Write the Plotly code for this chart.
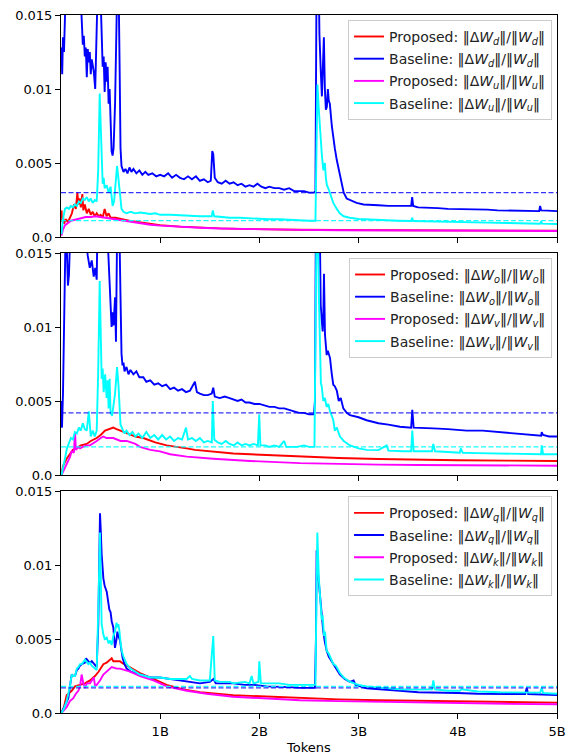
import plotly.graph_objects as go

# ---------------- data (x in billions of tokens) ----------------
# Panel 1: down / up projections
p1_base_d_x = [0.005, 0.012, 0.02, 0.03, 0.045, 0.08, 0.12, 0.17, 0.20, 0.21, 0.22, 0.23, 0.24, 0.25, 0.26, 0.27, 0.28, 0.29, 0.30, 0.31, 0.33, 0.345, 0.36, 0.37, 0.385, 0.40, 0.41, 0.42, 0.43, 0.44, 0.45, 0.46, 0.47, 0.48, 0.49, 0.50, 0.51, 0.52, 0.53, 0.545, 0.56, 0.575, 0.59, 0.60, 0.61, 0.63, 0.65, 0.67, 0.69, 0.71, 0.73, 0.76, 0.79, 0.82, 0.85, 0.88, 0.92, 0.96, 1.0, 1.04, 1.08, 1.12, 1.16, 1.2, 1.24, 1.28, 1.32, 1.36, 1.40, 1.44, 1.48, 1.51, 1.525, 1.535, 1.55, 1.58, 1.62, 1.66, 1.70, 1.74, 1.78, 1.82, 1.86, 1.90, 1.94, 1.98, 2.02, 2.06, 2.10, 2.15, 2.20, 2.25, 2.30, 2.35, 2.40, 2.45, 2.50, 2.55, 2.565, 2.575, 2.59, 2.605, 2.62, 2.63, 2.64, 2.65, 2.66, 2.67, 2.68, 2.69, 2.70, 2.71, 2.73, 2.745, 2.76, 2.78, 2.80, 2.815, 2.83, 2.85, 2.88, 2.92, 2.98, 3.05, 3.1, 3.2, 3.3, 3.4, 3.5, 3.53, 3.54, 3.55, 3.6, 3.7, 3.8, 3.9, 4.0, 4.1, 4.2, 4.3, 4.4, 4.5, 4.6, 4.7, 4.82, 4.83, 4.84, 4.9, 5.0]
p1_base_d_y = [0.0128, 0.0110, 0.0135, 0.0125, 0.016, 0.022, 0.020, 0.018, 0.016, 0.0138, 0.0130, 0.0136, 0.0122, 0.0128, 0.0108, 0.0127, 0.0118, 0.0125, 0.0110, 0.0120, 0.0112, 0.0100, 0.0135, 0.020, 0.021, 0.016, 0.0125, 0.0115, 0.0122, 0.0098, 0.0118, 0.0105, 0.0115, 0.0090, 0.0100, 0.0070, 0.0058, 0.0055, 0.0060, 0.0090, 0.018, 0.020, 0.012, 0.0060, 0.0048, 0.0044, 0.0046, 0.0043, 0.0047, 0.0044, 0.0046, 0.0043, 0.0045, 0.0042, 0.0044, 0.0042, 0.0043, 0.0041, 0.0042, 0.0041, 0.0043, 0.0040, 0.0042, 0.0040, 0.0039, 0.0041, 0.0039, 0.0041, 0.0038, 0.0039, 0.0037, 0.0038, 0.0058, 0.0056, 0.0040, 0.0037, 0.0036, 0.0038, 0.0036, 0.0037, 0.0035, 0.0036, 0.0034, 0.0035, 0.0034, 0.0036, 0.0034, 0.0033, 0.0034, 0.0033, 0.0033, 0.0032, 0.0033, 0.0031, 0.0031, 0.0031, 0.0030, 0.0030, 0.0031, 0.016, 0.022, 0.0137, 0.0110, 0.0095, 0.0115, 0.0135, 0.0100, 0.0086, 0.0088, 0.0100, 0.0092, 0.0090, 0.0075, 0.0066, 0.0060, 0.0052, 0.0045, 0.0041, 0.0036, 0.0030, 0.0026, 0.0025, 0.0023, 0.0022, 0.0022, 0.00215, 0.0021, 0.0021, 0.0021, 0.0021, 0.0027, 0.0021, 0.0020, 0.0020, 0.00195, 0.0019, 0.0019, 0.0019, 0.00185, 0.00185, 0.0018, 0.0018, 0.0018, 0.0018, 0.00175, 0.0021, 0.0018, 0.00178, 0.00175]

p1_base_u_x = [0.005, 0.02, 0.04, 0.06, 0.08, 0.10, 0.12, 0.14, 0.16, 0.18, 0.20, 0.22, 0.24, 0.26, 0.28, 0.30, 0.32, 0.34, 0.36, 0.375, 0.39, 0.40, 0.41, 0.42, 0.43, 0.44, 0.46, 0.48, 0.50, 0.52, 0.535, 0.555, 0.565, 0.575, 0.59, 0.61, 0.63, 0.66, 0.70, 0.75, 0.80, 0.85, 0.90, 0.95, 1.0, 1.1, 1.2, 1.3, 1.4, 1.52, 1.53, 1.545, 1.6, 1.7, 1.8, 1.9, 2.0, 2.1, 2.2, 2.3, 2.4, 2.5, 2.565, 2.575, 2.585, 2.60, 2.615, 2.63, 2.645, 2.66, 2.67, 2.68, 2.70, 2.71, 2.73, 2.745, 2.78, 2.81, 2.85, 2.91, 3.0, 3.1, 3.2, 3.3, 3.4, 3.53, 3.54, 3.55, 3.7, 3.9, 4.1, 4.3, 4.5, 4.7, 4.83, 4.84, 4.85, 5.0]
p1_base_u_y = [0.0002, 0.0012, 0.0019, 0.0020, 0.0019, 0.0021, 0.0020, 0.0022, 0.0021, 0.0024, 0.0023, 0.0026, 0.0025, 0.0027, 0.0024, 0.0026, 0.0023, 0.0025, 0.0024, 0.0045, 0.0097, 0.0075, 0.0042, 0.0036, 0.0040, 0.0033, 0.0035, 0.0030, 0.0034, 0.0021, 0.0024, 0.0040, 0.0048, 0.0042, 0.0030, 0.0019, 0.0017, 0.0016, 0.0017, 0.0016, 0.00165, 0.0016, 0.00155, 0.0016, 0.0015, 0.0015, 0.00145, 0.0014, 0.0014, 0.0014, 0.0018, 0.0014, 0.00135, 0.0013, 0.0013, 0.00125, 0.00125, 0.0012, 0.0012, 0.00115, 0.00115, 0.0011, 0.0011, 0.0060, 0.0103, 0.0085, 0.0065, 0.0055, 0.0045, 0.0050, 0.0040, 0.0035, 0.0032, 0.0030, 0.0026, 0.0023, 0.0019, 0.0016, 0.0014, 0.0013, 0.00122, 0.00118, 0.00115, 0.0011, 0.0011, 0.00108, 0.0013, 0.00108, 0.00105, 0.00102, 0.0010, 0.00097, 0.00095, 0.00092, 0.0009, 0.00105, 0.0009, 0.00088]

p1_prop_d_x = [0.005, 0.012, 0.02, 0.03, 0.05, 0.07, 0.09, 0.11, 0.13, 0.15, 0.165, 0.175, 0.19, 0.20, 0.215, 0.225, 0.24, 0.26, 0.28, 0.30, 0.32, 0.34, 0.36, 0.38, 0.40, 0.42, 0.44, 0.46, 0.48, 0.50, 0.55, 0.60, 0.65, 0.70, 0.80, 0.9, 1.0, 1.2, 1.4, 1.6, 1.8, 2.0, 2.4, 2.8, 3.2, 3.6, 4.0, 4.5, 5.0]
p1_prop_d_y = [0.0018, 0.0010, 0.0014, 0.0009, 0.0012, 0.0010, 0.0013, 0.0016, 0.0022, 0.0019, 0.0030, 0.0022, 0.0026, 0.0020, 0.0029, 0.0018, 0.0022, 0.0016, 0.0019, 0.0015, 0.0017, 0.0014, 0.0016, 0.0014, 0.0015, 0.0013, 0.0019, 0.0014, 0.0016, 0.0013, 0.0013, 0.0012, 0.00115, 0.00108, 0.00098, 0.00088, 0.0008, 0.0007, 0.00063, 0.00058, 0.00055, 0.00052, 0.00049, 0.00047, 0.00046, 0.00045, 0.00044, 0.00043, 0.00042]

p1_prop_u_x = [0.005, 0.02, 0.04, 0.06, 0.08, 0.10, 0.13, 0.16, 0.2, 0.25, 0.3, 0.35, 0.4, 0.45, 0.5, 0.55, 0.6, 0.7, 0.8, 0.9, 1.0, 1.2, 1.4, 1.6, 1.8, 2.0, 2.4, 2.8, 3.2, 3.6, 4.0, 4.5, 5.0]
p1_prop_u_y = [0.0001, 0.0005, 0.0008, 0.0009, 0.0010, 0.0011, 0.00115, 0.0012, 0.0013, 0.00135, 0.00135, 0.0014, 0.00135, 0.0013, 0.0012, 0.00115, 0.0011, 0.0010, 0.0009, 0.00083, 0.00077, 0.00068, 0.00062, 0.00057, 0.00054, 0.00051, 0.00048, 0.00046, 0.00045, 0.00044, 0.00043, 0.00042, 0.00041]

# Panel 2: output / value projections
p2_base_o_x = [0.005, 0.01, 0.02, 0.03, 0.04, 0.05, 0.06, 0.07, 0.08, 0.09, 0.12, 0.16, 0.20, 0.25, 0.27, 0.29, 0.31, 0.33, 0.345, 0.36, 0.37, 0.40, 0.45, 0.477, 0.49, 0.50, 0.51, 0.52, 0.53, 0.545, 0.554, 0.565, 0.58, 0.60, 0.61, 0.62, 0.63, 0.64, 0.66, 0.68, 0.70, 0.73, 0.76, 0.79, 0.83, 0.86, 0.90, 0.94, 0.98, 1.02, 1.06, 1.10, 1.14, 1.18, 1.22, 1.26, 1.30, 1.35, 1.37, 1.40, 1.44, 1.48, 1.52, 1.535, 1.55, 1.60, 1.65, 1.70, 1.74, 1.78, 1.82, 1.86, 1.90, 1.95, 2.0, 2.05, 2.1, 2.15, 2.2, 2.25, 2.3, 2.35, 2.40, 2.45, 2.50, 2.55, 2.56, 2.57, 2.59, 2.61, 2.618, 2.628, 2.638, 2.645, 2.651, 2.661, 2.67, 2.678, 2.69, 2.712, 2.73, 2.745, 2.76, 2.78, 2.80, 2.82, 2.846, 2.88, 2.913, 3.0, 3.081, 3.2, 3.3, 3.417, 3.53, 3.541, 3.555, 3.65, 3.753, 3.9, 4.09, 4.25, 4.425, 4.6, 4.75, 4.84, 4.846, 4.86, 4.92, 5.0]
p2_base_o_y = [0.0050, 0.0032, 0.0055, 0.0090, 0.0140, 0.018, 0.0150, 0.0128, 0.0135, 0.018, 0.022, 0.020, 0.018, 0.0160, 0.0148, 0.0140, 0.0145, 0.0134, 0.0140, 0.0132, 0.018, 0.022, 0.019, 0.0149, 0.0130, 0.0115, 0.0100, 0.0110, 0.0101, 0.0120, 0.0090, 0.016, 0.020, 0.012, 0.0082, 0.0074, 0.0076, 0.0070, 0.0073, 0.0068, 0.0071, 0.0068, 0.0070, 0.0066, 0.0066, 0.0063, 0.0064, 0.0061, 0.0062, 0.0060, 0.0061, 0.0058, 0.0059, 0.0057, 0.0058, 0.0056, 0.0057, 0.0063, 0.0056, 0.0055, 0.0054, 0.0054, 0.0055, 0.0059, 0.0053, 0.0052, 0.0053, 0.0052, 0.0051, 0.0050, 0.0051, 0.0049, 0.0049, 0.0048, 0.0048, 0.0047, 0.0046, 0.0046, 0.0045, 0.0045, 0.0044, 0.0043, 0.0042, 0.0042, 0.0041, 0.0041, 0.0050, 0.018, 0.022, 0.016, 0.0115, 0.0105, 0.0097, 0.0110, 0.0136, 0.0095, 0.0085, 0.0081, 0.0084, 0.0079, 0.0068, 0.0061, 0.0060, 0.0057, 0.0050, 0.0052, 0.0045, 0.0042, 0.00405, 0.0039, 0.0037, 0.0035, 0.0034, 0.00326, 0.0032, 0.0044, 0.0032, 0.0032, 0.00315, 0.0031, 0.0030, 0.0030, 0.0029, 0.0028, 0.0027, 0.00265, 0.0029, 0.0027, 0.0026, 0.0026]

p2_base_v_x = [0.005, 0.02, 0.04, 0.06, 0.08, 0.10, 0.12, 0.14, 0.16, 0.18, 0.20, 0.22, 0.24, 0.26, 0.28, 0.30, 0.32, 0.34, 0.36, 0.375, 0.39, 0.40, 0.41, 0.42, 0.43, 0.445, 0.46, 0.47, 0.48, 0.49, 0.50, 0.515, 0.53, 0.545, 0.565, 0.58, 0.60, 0.62, 0.64, 0.66, 0.69, 0.72, 0.75, 0.78, 0.82, 0.86, 0.90, 0.94, 0.98, 1.02, 1.06, 1.10, 1.14, 1.18, 1.22, 1.26, 1.28, 1.32, 1.36, 1.40, 1.44, 1.48, 1.52, 1.53, 1.545, 1.58, 1.62, 1.66, 1.70, 1.74, 1.78, 1.82, 1.86, 1.90, 1.94, 1.985, 1.998, 2.01, 2.06, 2.1, 2.15, 2.2, 2.25, 2.27, 2.32, 2.38, 2.45, 2.5, 2.555, 2.565, 2.58, 2.60, 2.611, 2.62, 2.628, 2.638, 2.644, 2.66, 2.678, 2.695, 2.712, 2.73, 2.745, 2.76, 2.78, 2.812, 2.85, 2.913, 3.0, 3.081, 3.2, 3.283, 3.3, 3.45, 3.53, 3.541, 3.555, 3.65, 3.74, 3.753, 3.77, 3.9, 4.02, 4.03, 4.05, 4.2, 4.425, 4.6, 4.84, 4.846, 4.86, 5.0]
p2_base_v_y = [0.0000, 0.0006, 0.0011, 0.0018, 0.0022, 0.0025, 0.0024, 0.0029, 0.0028, 0.0032, 0.0030, 0.0035, 0.0031, 0.0030, 0.0043, 0.0026, 0.0030, 0.0026, 0.0030, 0.0070, 0.0131, 0.0100, 0.0065, 0.0072, 0.0056, 0.0068, 0.0052, 0.0064, 0.0045, 0.0065, 0.0042, 0.0040, 0.0048, 0.0055, 0.0073, 0.0060, 0.0034, 0.0031, 0.0028, 0.0030, 0.0027, 0.0029, 0.0026, 0.0028, 0.0025, 0.0029, 0.0025, 0.0027, 0.0024, 0.0027, 0.0024, 0.0026, 0.0023, 0.0025, 0.0024, 0.0032, 0.0024, 0.0025, 0.0023, 0.0025, 0.0022, 0.0023, 0.0022, 0.0050, 0.0024, 0.0022, 0.0021, 0.0023, 0.0021, 0.0020, 0.0022, 0.0020, 0.0021, 0.0020, 0.0021, 0.0020, 0.0041, 0.0020, 0.0020, 0.0019, 0.0020, 0.0019, 0.0023, 0.0019, 0.0019, 0.0019, 0.0020, 0.0019, 0.0019, 0.0080, 0.020, 0.0120, 0.0075, 0.0062, 0.0060, 0.0055, 0.0050, 0.0052, 0.0046, 0.0048, 0.0043, 0.0040, 0.0037, 0.0030, 0.0032, 0.0026, 0.0023, 0.0020, 0.0018, 0.0017, 0.00168, 0.0020, 0.00165, 0.0016, 0.0016, 0.0030, 0.0016, 0.0016, 0.0016, 0.0021, 0.0016, 0.00155, 0.0015, 0.0018, 0.0015, 0.00148, 0.00145, 0.00142, 0.0014, 0.0020, 0.0014, 0.0014]

p2_prop_o_x = [0.005, 0.02, 0.057, 0.09, 0.12, 0.158, 0.2, 0.259, 0.30, 0.36, 0.40, 0.444, 0.48, 0.527, 0.56, 0.595, 0.662, 0.75, 0.83, 0.95, 1.065, 1.2, 1.267, 1.35, 1.502, 1.737, 2.073, 2.409, 2.8, 3.2, 3.6, 4.0, 4.5, 5.0]
p2_prop_o_y = [0.0, 0.0006, 0.0011, 0.0014, 0.0017, 0.0018, 0.0020, 0.0021, 0.0023, 0.0025, 0.0027, 0.0030, 0.0031, 0.0032, 0.0031, 0.0030, 0.0028, 0.0026, 0.0025, 0.0022, 0.0020, 0.0019, 0.0018, 0.0017, 0.0016, 0.00145, 0.00135, 0.00124, 0.00115, 0.00108, 0.00103, 0.0010, 0.00097, 0.00095]

p2_prop_v_x = [0.005, 0.02, 0.057, 0.09, 0.108, 0.13, 0.141, 0.15, 0.175, 0.192, 0.22, 0.26, 0.292, 0.33, 0.36, 0.40, 0.427, 0.46, 0.527, 0.6, 0.662, 0.75, 0.796, 0.9, 0.998, 1.1, 1.267, 1.535, 1.905, 2.409, 2.8, 3.2, 3.6, 4.0, 4.5, 5.0]
p2_prop_v_y = [0.0, 0.0002, 0.0007, 0.0012, 0.0016, 0.0015, 0.0029, 0.0017, 0.0019, 0.0018, 0.0019, 0.0020, 0.0020, 0.0022, 0.0023, 0.0025, 0.0026, 0.0025, 0.0025, 0.0023, 0.0023, 0.0021, 0.0019, 0.0017, 0.0016, 0.0014, 0.00124, 0.0011, 0.00095, 0.0008, 0.00074, 0.0007, 0.00068, 0.00066, 0.00064, 0.00063]

# Panel 3: query / key projections
p3_base_q_x = [0.005, 0.03, 0.074, 0.09, 0.108, 0.125, 0.141, 0.16, 0.175, 0.192, 0.21, 0.242, 0.252, 0.275, 0.292, 0.31, 0.343, 0.36, 0.376, 0.393, 0.40, 0.41, 0.427, 0.44, 0.461, 0.475, 0.487, 0.50, 0.511, 0.527, 0.544, 0.56, 0.568, 0.578, 0.595, 0.61, 0.622, 0.64, 0.662, 0.70, 0.75, 0.796, 0.85, 0.90, 0.998, 1.1, 1.233, 1.35, 1.401, 1.5, 1.537, 1.56, 1.65, 1.737, 1.85, 1.95, 2.073, 2.2, 2.3, 2.409, 2.5, 2.56, 2.57, 2.577, 2.59, 2.611, 2.628, 2.644, 2.66, 2.678, 2.70, 2.745, 2.78, 2.812, 2.86, 2.913, 2.95, 2.97, 3.081, 3.25, 3.417, 3.6, 3.753, 4.0, 4.2, 4.425, 4.68, 4.694, 4.71, 4.85, 5.0]
p3_base_q_y = [0.0, 0.0004, 0.0010, 0.0018, 0.0026, 0.0025, 0.0025, 0.0029, 0.0030, 0.0032, 0.0033, 0.0034, 0.0037, 0.0035, 0.0034, 0.0035, 0.0032, 0.0031, 0.0060, 0.0135, 0.0125, 0.0107, 0.0091, 0.0086, 0.0082, 0.0075, 0.0070, 0.0068, 0.0062, 0.0058, 0.0044, 0.0050, 0.0055, 0.0052, 0.0049, 0.0042, 0.0037, 0.0033, 0.0030, 0.0028, 0.0027, 0.0026, 0.0025, 0.0024, 0.0024, 0.0023, 0.0022, 0.0021, 0.0020, 0.0021, 0.0023, 0.0020, 0.0020, 0.0020, 0.0019, 0.0019, 0.0018, 0.0018, 0.00175, 0.0017, 0.0017, 0.0017, 0.0050, 0.0110, 0.0095, 0.0080, 0.0065, 0.0055, 0.0048, 0.0042, 0.0038, 0.0033, 0.0029, 0.0026, 0.0023, 0.0021, 0.0022, 0.0019, 0.00167, 0.0016, 0.0015, 0.0014, 0.0014, 0.00135, 0.0013, 0.0013, 0.00128, 0.0017, 0.00128, 0.00125, 0.00122]

p3_base_k_x = [0.005, 0.03, 0.057, 0.09, 0.108, 0.125, 0.141, 0.16, 0.175, 0.192, 0.21, 0.242, 0.252, 0.275, 0.292, 0.31, 0.343, 0.36, 0.376, 0.393, 0.40, 0.41, 0.427, 0.44, 0.461, 0.48, 0.494, 0.511, 0.527, 0.544, 0.56, 0.568, 0.578, 0.588, 0.60, 0.612, 0.63, 0.662, 0.70, 0.75, 0.796, 0.85, 0.90, 0.998, 1.1, 1.267, 1.3, 1.32, 1.4, 1.5, 1.525, 1.535, 1.55, 1.603, 1.7, 1.737, 1.85, 1.90, 1.922, 1.94, 1.99, 1.999, 2.015, 2.073, 2.2, 2.3, 2.409, 2.5, 2.565, 2.572, 2.584, 2.60, 2.618, 2.628, 2.638, 2.651, 2.661, 2.678, 2.70, 2.712, 2.745, 2.77, 2.812, 2.85, 2.913, 3.0, 3.081, 3.25, 3.417, 3.6, 3.74, 3.753, 3.77, 3.9, 4.02, 4.04, 4.2, 4.425, 4.6, 4.83, 4.846, 4.86, 5.0]
p3_base_k_y = [0.0, 0.0003, 0.0008, 0.0018, 0.0026, 0.0025, 0.0025, 0.0030, 0.0031, 0.0033, 0.0033, 0.0036, 0.0035, 0.0033, 0.0034, 0.0032, 0.0030, 0.0029, 0.0070, 0.0122, 0.0095, 0.0060, 0.0053, 0.0050, 0.0051, 0.0047, 0.0049, 0.0046, 0.0052, 0.0055, 0.0061, 0.0058, 0.0060, 0.0056, 0.0048, 0.0042, 0.0038, 0.0033, 0.0030, 0.0028, 0.0026, 0.0025, 0.0024, 0.0024, 0.0023, 0.0023, 0.0025, 0.0023, 0.0022, 0.0022, 0.0045, 0.0052, 0.0022, 0.0021, 0.0021, 0.0020, 0.0021, 0.0020, 0.0025, 0.0020, 0.0021, 0.0035, 0.0020, 0.0020, 0.0020, 0.0019, 0.0019, 0.0019, 0.0019, 0.0060, 0.0122, 0.0090, 0.0070, 0.0063, 0.0066, 0.0052, 0.0055, 0.0042, 0.0040, 0.0038, 0.0033, 0.0032, 0.0027, 0.0024, 0.0021, 0.0019, 0.0018, 0.0017, 0.0016, 0.00158, 0.0016, 0.0022, 0.0016, 0.0015, 0.0015, 0.0016, 0.00145, 0.0014, 0.0014, 0.00138, 0.0017, 0.00135, 0.0013]

p3_prop_q_x = [0.005, 0.03, 0.057, 0.09, 0.108, 0.141, 0.192, 0.242, 0.292, 0.343, 0.38, 0.41, 0.427, 0.46, 0.494, 0.511, 0.527, 0.561, 0.595, 0.612, 0.696, 0.796, 0.931, 1.065, 1.233, 1.401, 1.737, 2.073, 2.409, 2.8, 3.2, 3.6, 4.0, 4.5, 5.0]
p3_prop_q_y = [0.0, 0.0004, 0.0012, 0.0014, 0.0015, 0.0018, 0.0019, 0.0020, 0.0022, 0.0025, 0.0028, 0.0031, 0.0033, 0.0034, 0.0036, 0.0037, 0.0035, 0.0035, 0.0035, 0.0034, 0.0031, 0.0027, 0.0023, 0.0019, 0.0016, 0.0014, 0.0012, 0.0011, 0.0010, 0.00092, 0.00086, 0.00082, 0.00078, 0.00074, 0.0007]

p3_prop_k_x = [0.005, 0.03, 0.057, 0.09, 0.124, 0.15, 0.175, 0.192, 0.208, 0.225, 0.242, 0.26, 0.292, 0.33, 0.345, 0.36, 0.393, 0.427, 0.46, 0.511, 0.561, 0.595, 0.696, 0.796, 0.931, 1.065, 1.267, 1.468, 1.737, 2.073, 2.409, 2.8, 3.2, 3.6, 4.0, 4.5, 5.0]
p3_prop_k_y = [0.0, 0.0002, 0.0004, 0.0008, 0.0010, 0.0013, 0.0015, 0.0018, 0.0026, 0.0020, 0.0017, 0.0020, 0.0020, 0.0024, 0.0018, 0.0019, 0.0022, 0.0026, 0.0028, 0.0031, 0.0030, 0.0030, 0.0028, 0.0025, 0.0022, 0.0018, 0.0015, 0.0013, 0.0011, 0.00098, 0.00086, 0.0008, 0.00075, 0.0007, 0.00066, 0.00062, 0.00059]

# dashed reference levels per panel: (baseline blue, baseline cyan)
ref_blue = [0.0030, 0.0042, 0.0017]
ref_cyan = [0.0011, 0.0019, 0.0018]

x_ticks = [1, 2, 3, 4, 5]
x_tick_labels = ["1B", "2B", "3B", "4B", "5B"]
y_ticks = [0.0, 0.005, 0.01, 0.015]
y_tick_labels = ["0.0", "0.005", "0.01", "0.015"]

# ---------------- figure ----------------
RED, BLUE, MAG, CYAN = "#ff0000", "#0000ff", "#ff00ff", "#00ffff"
FONT = "DejaVu Sans, Liberation Sans, sans-serif"


def nm(kind, s):
    w = "<i>W</i><sub><i>%s</i></sub>" % s
    return "%s: ‖Δ%s‖/‖%s‖" % (kind, w, w)


panels = [
    (p1_prop_d_x, p1_prop_d_y, p1_base_d_x, p1_base_d_y, p1_prop_u_x, p1_prop_u_y, p1_base_u_x, p1_base_u_y, "d", "u"),
    (p2_prop_o_x, p2_prop_o_y, p2_base_o_x, p2_base_o_y, p2_prop_v_x, p2_prop_v_y, p2_base_v_x, p2_base_v_y, "o", "v"),
    (p3_prop_q_x, p3_prop_q_y, p3_base_q_x, p3_base_q_y, p3_prop_k_x, p3_prop_k_y, p3_base_k_x, p3_base_k_y, "q", "k"),
]

fig = go.Figure()
H_TOTAL = 698.0
domains = [[476 / H_TOTAL, 1.0], [238 / H_TOTAL, 460 / H_TOTAL], [0.0, 222 / H_TOTAL]]
legend_tops = [0.993, 0.652, 0.3105]
LW = 1.9

for i, (ax1, ay1, bx1, by1, ax2, ay2, bx2, by2, s1, s2) in enumerate(panels):
    xa = "x" if i == 0 else "x%d" % (i + 1)
    ya = "y" if i == 0 else "y%d" % (i + 1)
    lg = "legend" if i == 0 else "legend%d" % (i + 1)
    common = dict(xaxis=xa, yaxis=ya, legend=lg, mode="lines")
    fig.add_trace(go.Scatter(x=ax1, y=ay1, name=nm("Proposed", s1), legendgroup="g%da" % i,
                             line=dict(color=RED, width=LW), **common))
    fig.add_trace(go.Scatter(x=bx1, y=by1, name=nm("Baseline", s1), legendgroup="g%db" % i,
                             line=dict(color=BLUE, width=LW), **common))
    fig.add_trace(go.Scatter(x=ax2, y=ay2, name=nm("Proposed", s2), legendgroup="g%dc" % i,
                             line=dict(color=MAG, width=LW), **common))
    fig.add_trace(go.Scatter(x=bx2, y=by2, name=nm("Baseline", s2), legendgroup="g%dd" % i,
                             line=dict(color=CYAN, width=LW), **common))
    fig.add_trace(go.Scatter(x=[0, 5], y=[ref_blue[i]] * 2, showlegend=False, hoverinfo="skip",
                             line=dict(color="rgba(0,0,255,0.8)", width=1.3, dash="5px,2.5px"), **common))
    fig.add_trace(go.Scatter(x=[0, 5], y=[ref_cyan[i]] * 2, showlegend=False, hoverinfo="skip",
                             line=dict(color="rgba(0,255,255,0.9)", width=1.3, dash="5px,2.5px"), **common))

    axis_common = dict(showline=True, linecolor="black", linewidth=1, mirror=True, ticks="outside",
                       ticklen=5, tickcolor="black", showgrid=False, zeroline=False, automargin=False,
                       tickfont=dict(family=FONT, size=13, color="black"))
    xkey = "xaxis" if i == 0 else "xaxis%d" % (i + 1)
    ykey = "yaxis" if i == 0 else "yaxis%d" % (i + 1)
    fig.update_layout({
        xkey: dict(range=[0, 5], tickvals=x_ticks, ticktext=x_tick_labels, domain=[0, 1],
                   anchor=ya, showticklabels=(i == 2), ticklabelstandoff=1, **axis_common),
        ykey: dict(range=[0, 0.015], tickvals=y_ticks, ticktext=y_tick_labels, domain=domains[i],
                   anchor=xa, **axis_common),
        lg: dict(x=0.99, y=legend_tops[i], xanchor="right", yanchor="top",
                 bgcolor="rgba(255,255,255,0.85)", bordercolor="#cccccc", borderwidth=1,
                 font=dict(family=FONT, size=14, color="#222222"), itemwidth=30,
                 tracegroupgap=1),
    })

fig.update_layout(xaxis3_title=dict(text="Tokens", font=dict(family=FONT, size=13, color="black"), standoff=6))
fig.update_layout(width=574, height=755, margin=dict(l=61, r=17, t=15, b=42, autoexpand=False),
                  plot_bgcolor="white", paper_bgcolor="white", showlegend=True)

fig.write_html("out.html")
